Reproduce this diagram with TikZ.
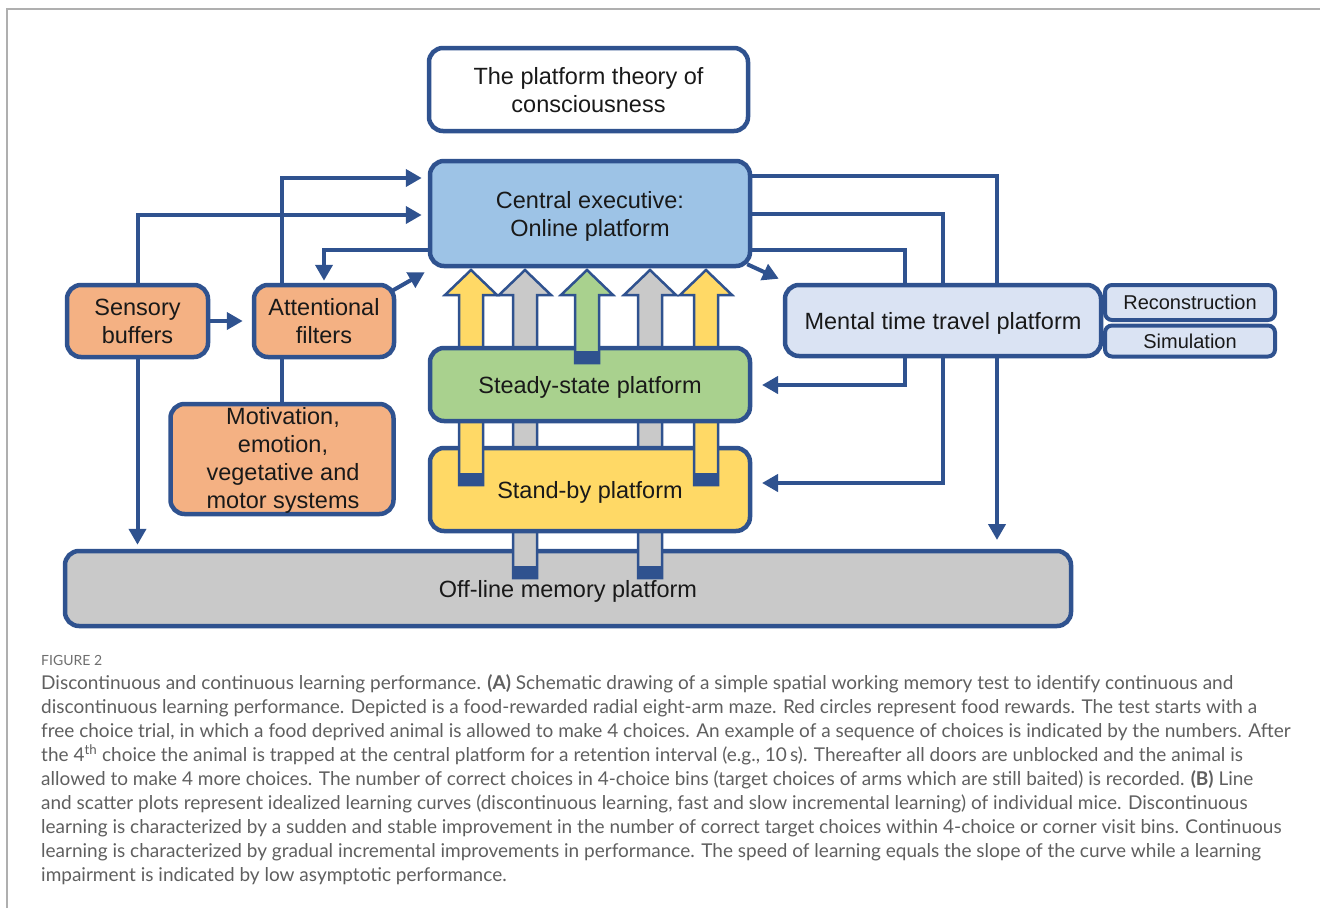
\documentclass[tikz,border=0pt]{standalone}
\usepackage{fontspec}
\setmainfont{Liberation Sans}
\newfontfamily\capfont{Lato}
\usetikzlibrary{arrows.meta,calc}
\definecolor{dblue}{RGB}{47,82,143}
\definecolor{ceblue}{RGB}{157,195,230}
\definecolor{sgreen}{RGB}{169,209,142}
\definecolor{syellow}{RGB}{255,217,102}
\definecolor{sgray}{RGB}{201,201,201}
\definecolor{sorange}{RGB}{244,177,131}
\definecolor{mblue}{RGB}{218,227,243}
\definecolor{framegray}{RGB}{175,175,175}
\definecolor{captext}{RGB}{95,95,95}
\definecolor{figgray}{RGB}{110,110,110}
\pgfdeclarelayer{bg}
\pgfsetlayers{bg,main}
\newcommand\blkarrow[3]{%
  \draw[draw=dblue, line width=2.5pt, fill=#3, line join=miter]
    (#1-12,#2) -- (#1-12,295) -- (#1-26,295) -- (#1,270) -- (#1+26,295) -- (#1+12,295) -- (#1+12,#2) -- cycle;
  \fill[dblue] (#1-13.25,#2-12) rectangle (#1+13.25,#2+1.25);
}
\begin{document}
\begin{tikzpicture}[x=1pt,y=-1pt,
  box/.style={draw=dblue, line width=4.5pt, rounded corners=14pt, align=center,
    font=\fontsize{23.5}{28}\selectfont, inner sep=0pt, text=black!90, text depth=0pt},
  smallbox/.style={box, line width=4pt, rounded corners=7pt, font=\fontsize{20}{24}\selectfont},
  conn/.style={draw=dblue, line width=4pt, -{Triangle[length=16pt,width=17pt]}},
  link/.style={draw=dblue, line width=4pt},
  captionline/.style={anchor=base west, inner sep=0pt, font=\capfont\fontsize{19}{24}\selectfont, text=captext},
  figlabel/.style={anchor=base west, inner sep=0pt, font=\capfont\fontsize{14}{16}\selectfont, text=figgray}
]
\useasboundingbox (0,0) rectangle (1320,908);
% frame
\draw[framegray, line width=1.5pt] (7,908) -- (7,9) -- (1320,9);

% boxes and block arrows in stacking order
\node[box, fill=sgray, minimum width=1006pt, minimum height=75pt] (off) at (568,588.5) {Off-line memory platform};
\blkarrow{525}{578}{sgray}
\blkarrow{650}{578}{sgray}
\node[box, fill=syellow, minimum width=320pt, minimum height=83pt] (sb) at (590,489.5) {Stand-by platform};
\blkarrow{471}{485}{syellow}
\blkarrow{706}{485}{syellow}
\node[box, fill=sgreen, minimum width=320pt, minimum height=73pt] (ss) at (590,384.5) {Steady-state platform};
\blkarrow{587}{363}{sgreen}
\node[box, fill=ceblue, minimum width=320pt, minimum height=105pt] (ce) at (590,213.5) {Central executive:\\Online platform};
\node[box, fill=white, minimum width=319pt, minimum height=83pt] (title) at (588.5,89.5) {The platform theory of\\consciousness};

\node[box, fill=sorange, minimum width=141pt, minimum height=72pt] (sens) at (137.5,321) {Sensory\\buffers};
\node[box, fill=sorange, minimum width=140pt, minimum height=72pt] (attn) at (324,321) {Attentional\\filters};
\node[box, fill=sorange, minimum width=223pt, minimum height=110pt] (mot) at (282,459) {};
\node[align=center, font=\fontsize{23.5}{28}\selectfont, inner sep=0pt, anchor=base, text=black!90] (mottxt) at (283,508) {Motivation,\\emotion,\\vegetative and\\motor systems};

\node[box, fill=mblue, minimum width=316pt, minimum height=71pt] (mtt) at (943,320.5) {Mental time travel platform};
\node[smallbox, fill=mblue, minimum width=170pt, minimum height=35pt] (rec) at (1190,302.5) {Reconstruction};
\node[smallbox, fill=mblue, minimum width=170pt, minimum height=31pt] (sim) at (1190,341) {Simulation};

% connectors
\coordinate (aEnd) at (997,540);
\coordinate (bTurn) at (943,483);
\coordinate (bEnd) at (762,483);
\coordinate (cTurn) at (905,385);
\coordinate (cEnd) at (762,385);
\begin{pgfonlayer}{bg}
\draw[conn] (sens.east) -- ($(attn.west)+(-9,0)$);
\draw[conn] (sens.south) -- ($(sens.south |- off.north)+(0,-4)$);
\draw[conn] (sens.north) |- ($(ce.west)+(-6,1.5)$);
\draw[conn] ($(attn.north)+(-42,0)$) |- ($(ce.west)+(-6,-35.5)$);
\draw[conn] ($(ce.west)+(0,36.5)$) -| ($(attn.north)+(0,-2)$);
\draw[conn] ($(attn.north east)+(-4,8)$) -- ($(ce.south west)+(-3,4)$);
\draw[link] (mot.north) -- (mot.north |- attn.south);
\draw[conn] ($(ce.south east)+(-5,-4)$) -- ($(mtt.north west)+(-4,-4)$);
\draw[conn] ($(ce.east)+(0,-37.5)$) -| (aEnd);
\draw[conn] (ce.east) -| (bTurn) -- (bEnd);
\draw[conn] ($(ce.east)+(0,36.5)$) -| (cTurn) -- (cEnd);
\end{pgfonlayer}

% caption
\node[figlabel] (figlab) at (41,665) {FIGURE 2};
\node[captionline] (c1) at (41,689) {Discontinuous and continuous learning performance. \textbf{(A)} Schematic drawing of a simple spatial working memory test to identify continuous and};
\node[captionline] (c2) at (41,713) {discontinuous learning performance. Depicted is a food-rewarded radial eight-arm maze. Red circles represent food rewards. The test starts with a};
\node[captionline] (c3) at (41,737) {free choice trial, in which a food deprived animal is allowed to make 4 choices. An example of a sequence of choices is indicated by the numbers. After};
\node[captionline] (c4) at (41,761) {the 4\textsuperscript{th} choice the animal is trapped at the central platform for a retention interval (e.g., 10\,s). Thereafter all doors are unblocked and the animal is};
\node[captionline] (c5) at (41,785) {allowed to make 4 more choices. The number of correct choices in 4-choice bins (target choices of arms which are still baited) is recorded. \textbf{(B)} Line};
\node[captionline] (c6) at (41,809) {and scatter plots represent idealized learning curves (discontinuous learning, fast and slow incremental learning) of individual mice. Discontinuous};
\node[captionline] (c7) at (41,833) {learning is characterized by a sudden and stable improvement in the number of correct target choices within 4-choice or corner visit bins. Continuous};
\node[captionline] (c8) at (41,857) {learning is characterized by gradual incremental improvements in performance. The speed of learning equals the slope of the curve while a learning};
\node[captionline] (c9) at (41,881) {impairment is indicated by low asymptotic performance.};
\end{tikzpicture}
\end{document}
